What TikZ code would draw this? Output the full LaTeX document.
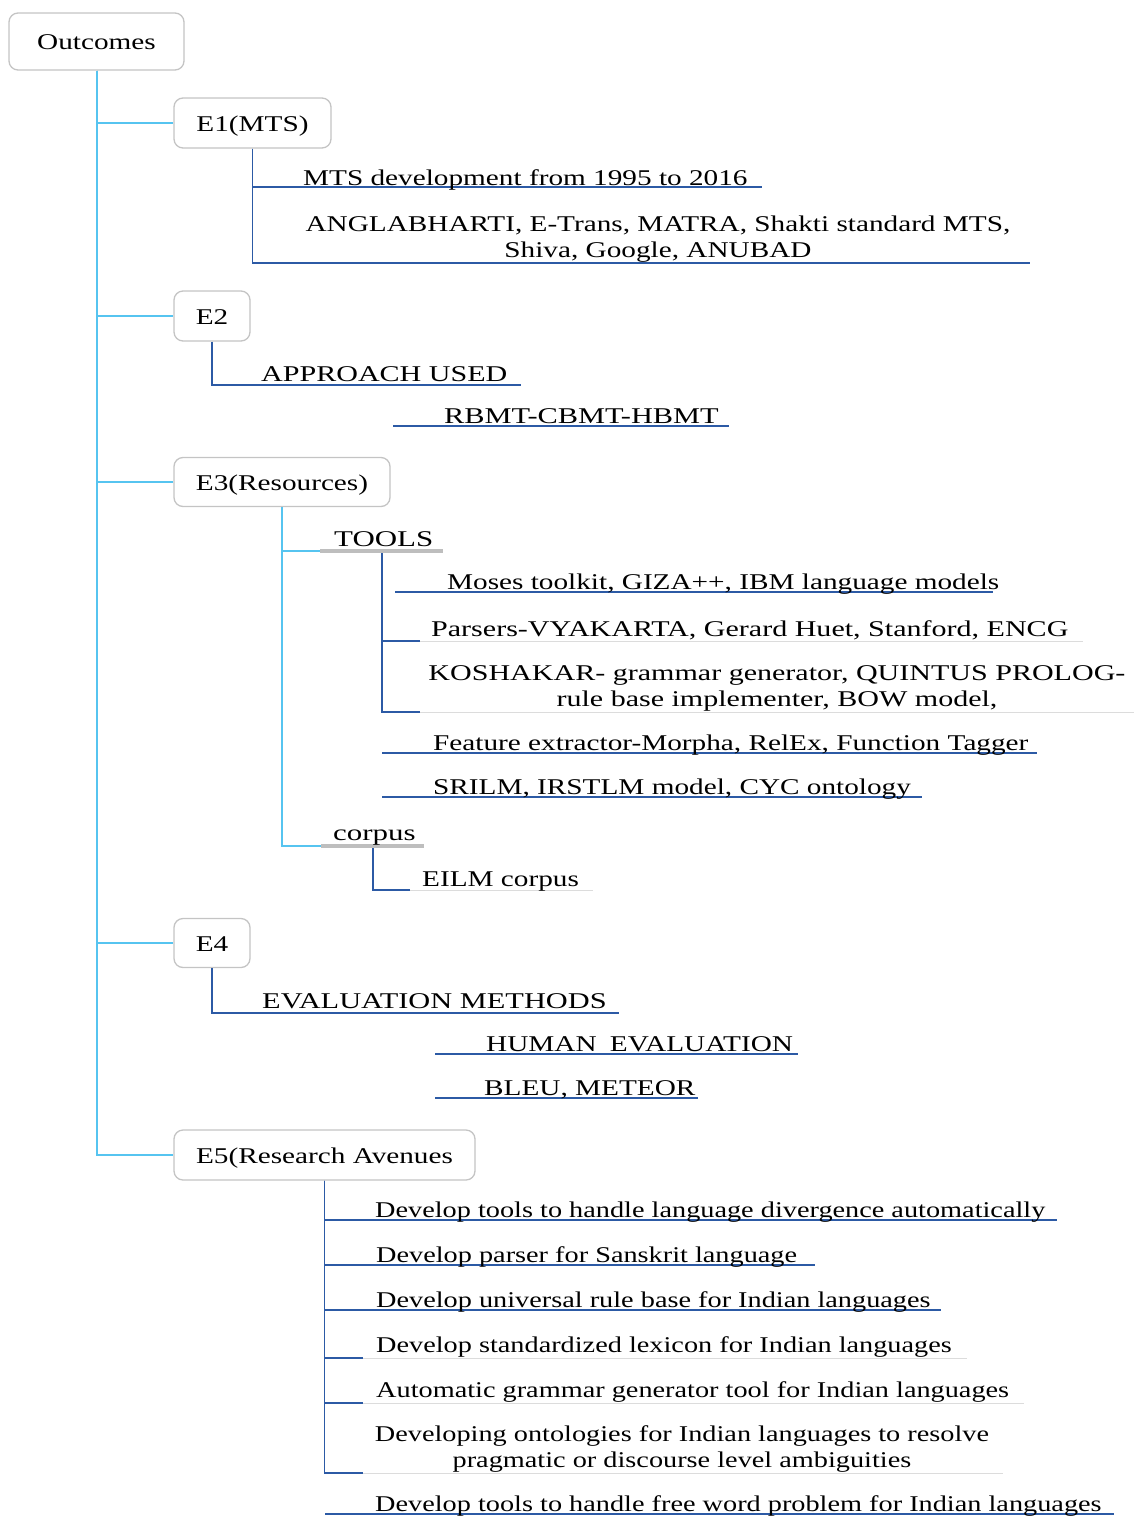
\documentclass[tikz,border=0pt]{standalone}
\usepackage{fontspec}
\setmainfont[FakeStretch=1.3]{Liberation Serif}
% wider and narrower cuts of the same face, for labels set a little looser or tighter
\newfontfamily\fnarrow[FakeStretch=1.257]{Liberation Serif}
\newfontfamily\fwide[FakeStretch=1.335]{Liberation Serif}
\newfontfamily\fwider[FakeStretch=1.35]{Liberation Serif}
\newfontfamily\fwidest[FakeStretch=1.375]{Liberation Serif}
\definecolor{lblue}{RGB}{86,196,240}
\definecolor{dblue}{RGB}{44,90,165}
\definecolor{boxgray}{RGB}{196,196,196}
\definecolor{bgray}{RGB}{190,190,190}
\definecolor{fgray}{RGB}{220,220,220}
\begin{document}
\begin{tikzpicture}[x=1pt,y=-1pt,
  font=\fontsize{22.5}{25.5}\selectfont,
  face/.style={font=#1\fontsize{22.5}{25.5}\selectfont},
  box/.style={draw=boxgray,line width=1.3pt,rounded corners=9pt,fill=white,inner sep=0pt,text height=16pt,text depth=0pt},
  lbl/.style={inner sep=0pt,anchor=base west},
  mlbl/.style={inner sep=0pt,align=center,anchor=base},
  trunk/.style={draw=lblue,line width=2pt},
  link/.style={draw=dblue,line width=1.8pt},
  faint/.style={draw=fgray,line width=1pt},
  bar/.style={draw=bgray,line width=4pt}]
\useasboundingbox (0,0) rectangle (1134,1516);

% main boxes
\node[box,minimum width=175pt,minimum height=57pt] (out) at (96.5,41.5) {Outcomes};
\node[box,minimum width=157pt,minimum height=50pt] (e1) at (252.5,123) {E1(MTS)};
\node[box,minimum width=76pt,minimum height=50pt] (e2) at (212,316) {E2};
\node[box,minimum width=216pt,minimum height=49pt] (e3) at (282,482) {E3(Resources)};
\node[box,minimum width=76pt,minimum height=49pt] (e4) at (212,943) {E4};
\node[box,minimum width=301pt,minimum height=50pt] (e5) at (324.5,1155) {E5(Research Avenues};

% trunk from Outcomes
\foreach \e in {e1,e2,e3,e4,e5} \draw[trunk] (out.south) |- (\e.west);

% E1 branch
\coordinate (u11) at (762,187);
\coordinate (u12) at (1030,263);
\draw[link] (e1.south) |- (u11);
\draw[link] (e1.south) |- (u12);
\node[lbl] (t11) at (303,185) {MTS development from 1995 to 2016};
\node[mlbl] (t12) at (658,257) {ANGLABHARTI, E-Trans, MATRA, Shakti standard MTS,\\Shiva, Google, ANUBAD};

% E2 branch
\coordinate (u21) at (521,385);
\draw[link] (e2.south) |- (u21);
\node[lbl,face=\fwide] (t21) at (261,381) {APPROACH USED};
\coordinate (u22a) at (393,426);
\coordinate (u22b) at (729,426);
\draw[link] (u22a) -- (u22b);
\node[lbl,face=\fwider] (t22) at (444,423) {RBMT-CBMT-HBMT};

% E3 branch: tools
\coordinate (tb0) at (320,551);
\coordinate (tb1) at (443,551);
\draw[trunk] (e3.south) |- (tb0);
\draw[bar] (tb0) -- (tb1);
\node[lbl,face=\fwidest] (tools) at (334,546) {TOOLS};
\coordinate (tv) at (382,553);
\coordinate (m0) at (395,592);
\coordinate (m1) at (993,592);
\draw[link] (m0) -- (m1);
\node[lbl] (t31) at (447,589) {Moses toolkit, GIZA++, IBM language models};
\coordinate (p0) at (420,641);
\coordinate (p1) at (1083,641);
\draw[faint] (p0) -- (p1);
\draw[link] (tv) |- (p0);
\node[lbl,face=\fwide] (t32) at (431,636) {Parsers-VYAKARTA, Gerard Huet, Stanford, ENCG};
\coordinate (k0) at (420,712);
\coordinate (k1) at (1134,712);
\draw[faint] (k0) -- (k1);
\draw[link] (tv) |- (k0);
\node[mlbl,face=\fwide] (t33) at (777,706) {KOSHAKAR- grammar generator, QUINTUS PROLOG-\\rule base implementer, BOW model,};
\coordinate (f0) at (382,753);
\coordinate (f1) at (1037,753);
\draw[link] (f0) -- (f1);
\node[lbl] (t34) at (433,750) {Feature extractor-Morpha, RelEx, Function Tagger};
\coordinate (s0) at (382,797);
\coordinate (s1) at (922,797);
\draw[link] (s0) -- (s1);
\node[lbl] (t35) at (433,794) {SRILM, IRSTLM model, CYC ontology};

% E3 branch: corpus
\coordinate (cb0) at (321,846);
\coordinate (cb1) at (424,846);
\draw[trunk] (e3.south) |- (cb0);
\draw[bar] (cb0) -- (cb1);
\node[lbl,face=\fwidest] (corpus) at (333,840) {corpus};
\coordinate (cv) at (373,848);
\coordinate (c0) at (410,890);
\coordinate (c1) at (593,890);
\draw[faint] (c0) -- (c1);
\draw[link] (cv) |- (c0);
\node[lbl] (t36) at (422,886) {EILM corpus};

% E4 branch
\coordinate (u41) at (619,1013);
\draw[link] (e4.south) |- (u41);
\node[lbl,face=\fwider] (t41) at (262,1008) {EVALUATION METHODS};
\coordinate (h0) at (435,1054);
\coordinate (h1) at (798,1054);
\draw[link] (h0) -- (h1);
\node[lbl] (t42) at (486,1051) {HUMAN\hspace{6pt} EVALUATION};
\coordinate (b0) at (435,1098);
\coordinate (b1) at (698,1098);
\draw[link] (b0) -- (b1);
\node[lbl] (t43) at (484,1095) {BLEU, METEOR};

% E5 branch
\coordinate (r1) at (1057,1220);
\coordinate (r2) at (815,1265);
\coordinate (r3) at (941,1310);
\draw[link] (e5.south) |- (r1);
\draw[link] (e5.south) |- (r2);
\draw[link] (e5.south) |- (r3);
\coordinate (r4a) at (363,1358);
\coordinate (r4b) at (967,1358);
\coordinate (r5a) at (363,1403);
\coordinate (r5b) at (1024,1403);
\coordinate (r6a) at (363,1473);
\coordinate (r6b) at (1003,1473);
\draw[faint] (r4a) -- (r4b);
\draw[faint] (r5a) -- (r5b);
\draw[faint] (r6a) -- (r6b);
\draw[link] (e5.south) |- (r4a);
\draw[link] (e5.south) |- (r5a);
\draw[link] (e5.south) |- (r6a);
\coordinate (r7a) at (325,1514);
\coordinate (r7b) at (1114,1514);
\draw[link] (r7a) -- (r7b);
\begin{scope}[every node/.append style={face=\fnarrow}]
\node[lbl] (t51) at (375,1217) {Develop tools to handle language divergence automatically};
\node[lbl] (t52) at (376,1262) {Develop parser for Sanskrit language};
\node[lbl] (t53) at (376,1307) {Develop universal rule base for Indian languages};
\node[lbl] (t54) at (376,1352) {Develop standardized lexicon for Indian languages};
\node[lbl] (t55) at (376,1397) {Automatic grammar generator tool for Indian languages};
\node[mlbl] (t56) at (682,1467) {Developing ontologies for Indian languages to resolve\\pragmatic or discourse level ambiguities};
\node[lbl] (t57) at (375,1511) {Develop tools to handle free word problem for Indian languages};
\end{scope}
\end{tikzpicture}
\end{document}
